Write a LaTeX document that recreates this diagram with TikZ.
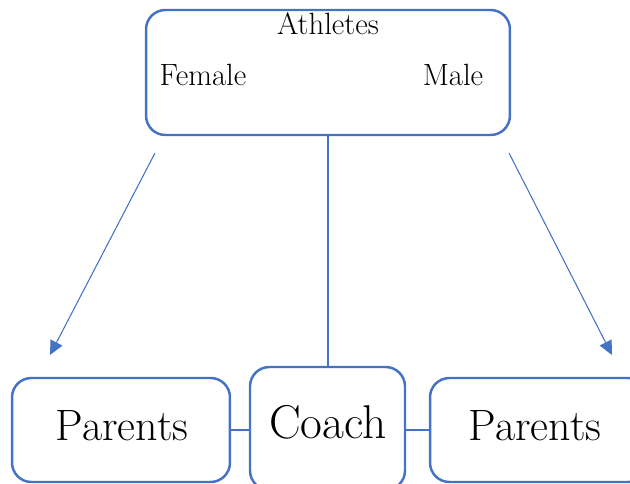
\documentclass[tikz,border=0pt]{standalone}
\usepackage{tikz}
\usetikzlibrary{arrows.meta, positioning}
\definecolor{boxblue}{HTML}{4472C4}
\tikzset{
  groupbox/.style = {draw = boxblue, line width = 1.4pt, rounded corners = 11pt, inner sep = 0pt},
  smalltext/.style = {font = \fontsize{17.5}{21}\selectfont},
  bigtext/.style = {font = \fontsize{25}{30}\selectfont},
  link/.style = {draw = boxblue, line width = 1.3pt},
  pointer/.style = {draw = boxblue, line width = .6pt, -{Triangle[length=8pt, width=7.5pt]}}
}

\begin{document}
\begin{tikzpicture}[x=.02cm, y=-.02cm]
      \clip (0, 0) rectangle (630, 484);
      \node[groupbox, minimum width = 7.28cm, minimum height = 2.5cm] (athletes) at (328, 72.5) {};
      \node[smalltext] (athlab) at (328, 24) {Athletes};
      \node[smalltext] (female) at (203, 75) {Female};
      \node[smalltext] (male) at (453, 75) {Male};
      \node[groupbox, minimum width = 3.1cm, minimum height = 2.46cm] (coach) at (327.5, 428.5) {};
      \node[bigtext, font = \fontsize{27}{32}\selectfont] (coachlab) at (328, 422) {Coach};
      \node[groupbox, minimum width = 4.36cm, minimum height = 2.08cm] (parentsL) at (121, 430) {};
      \node[bigtext] (parlabL) at (122, 426) {Parents};
      \node[groupbox, minimum width = 4.36cm, minimum height = 2.08cm] (parentsR) at (539, 430) {};
      \node[bigtext] (parlabR) at (535, 426) {Parents};
      \coordinate (fromL) at (155, 153);
      \coordinate (toL) at (50, 355);
      \coordinate (fromR) at (509, 153);
      \coordinate (toR) at (612, 355);
      \draw[link] (athletes.south) -- (athletes.south |- coach.north);
      \draw[link] (parentsL.east) -- (parentsL.east -| coach.west);
      \draw[link] (parentsR.west) -- (parentsR.west -| coach.east);
      \draw[pointer] (fromL) -- (toL);
      \draw[pointer] (fromR) -- (toR);
    \end{tikzpicture}
\end{document}
